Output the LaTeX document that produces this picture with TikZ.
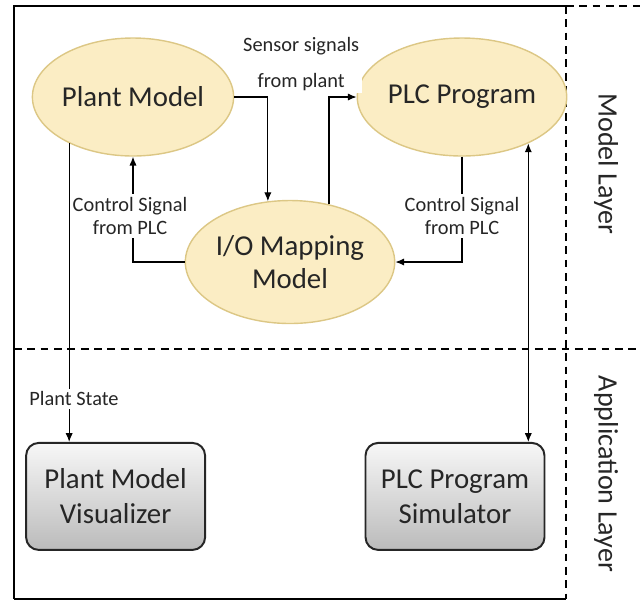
\documentclass[tikz,border=0pt]{standalone}
\usepackage{fontspec}
\setmainfont{Carlito}
\usepackage{xcolor}
\definecolor{ink}{HTML}{262626}
\definecolor{sand}{HTML}{FBEDC4}
\definecolor{sandline}{HTML}{DCC785}
\definecolor{boxtop}{HTML}{F7F7F7}
\definecolor{boxbot}{HTML}{BBBBBB}
\usepackage{tikz}
\usetikzlibrary{arrows.meta,positioning,shapes.geometric}
\tikzset{arr/.style={-{Latex[length=2.2mm,width=1.8mm]},draw=black,line width=0.75pt},dbl/.style={{Latex[length=2.2mm,width=1.8mm]}-{Latex[length=2.2mm,width=1.8mm]},draw=black,line width=0.75pt},lbl/.style={fill=white,inner sep=2pt,align=center,text=ink,font=\fontsize{14.5}{24}\selectfont}}
\begin{document}
\begin{tikzpicture}[x=1cm,y=1cm,
model/.style={ellipse,draw=sandline,line width=1pt,fill=sand,text=ink,align=center,inner sep=0pt,font=\fontsize{20.5}{23.5}\selectfont},
app/.style={draw=black!85,line width=1.4pt,rounded corners=9pt,top color=boxtop,bottom color=boxbot,text=ink,align=center,minimum width=4.475cm,minimum height=2.675cm,inner sep=0pt,font=\fontsize{20.5}{25}\selectfont},
layer/.style={rotate=-90,text=ink,font=\fontsize{20}{24}\selectfont},
sep/.style={draw=black,line width=1.3pt,dash pattern=on 5.5pt off 4pt}]
\useasboundingbox (0,0) rectangle (16,-15.025);
% frame and layer borders
\draw[line width=1.4pt] (14.15,-0.15)--(0.35,-0.15)--(0.35,-14.975);
\draw[line width=.8pt] (0.35,-14.975)--(14.15,-14.975);
\draw[sep] (14.15,-0.15)--(16,-0.15);
\draw[sep] (14.15,-0.15)--(14.15,-14.975);
\draw[sep] (0.35,-8.725)--(16,-8.725);
\node[layer] (ml) at (15.15,-4.1) {Model Layer};
\node[layer] (al) at (15.15,-11.85) {Application Layer};
% models
\node[model,minimum width=4.65cm,minimum height=2.95cm] (pm) at (3.325,-2.425) {Plant Model};
\node[model,minimum width=4.65cm,minimum height=2.95cm] (plc) at (11.55,-2.425) {PLC Program};
\node[model,minimum width=4.125cm,minimum height=3.075cm] (io) at (7.25,-6.55) {I/O Mapping\\Model};
% applications
\node[app] (vis) at (2.89,-12.41) {Plant Model\\Visualizer};
\node[app] (sim) at (11.375,-12.41) {PLC Program\\Simulator};
% signals
\draw[arr] (pm.east) -| (io.110);
\draw[arr] (io.56) |- (plc.west);
\draw[arr] (plc.south) |- (io.east);
\draw[arr] (io.west) -| (pm.south);
\draw[arr] (pm.216) -- (pm.216 |- vis.north);
\draw[dbl] (plc.325) -- (plc.325 |- sim.north);
\node[lbl,font=\fontsize{14.5}{25}\selectfont] (ss) at (7.53,-1.6) {Sensor signals\\from plant};
\node[lbl,font=\fontsize{14.5}{17}\selectfont] (cl) at (3.25,-5.4) {Control Signal\\from PLC};
\node[lbl,font=\fontsize{14.5}{17}\selectfont] (cr) at (11.55,-5.4) {Control Signal\\from PLC};
\node[lbl,font=\fontsize{14.5}{17}\selectfont] (ps) at (1.85,-9.97) {Plant State};
\end{tikzpicture}
\end{document}
